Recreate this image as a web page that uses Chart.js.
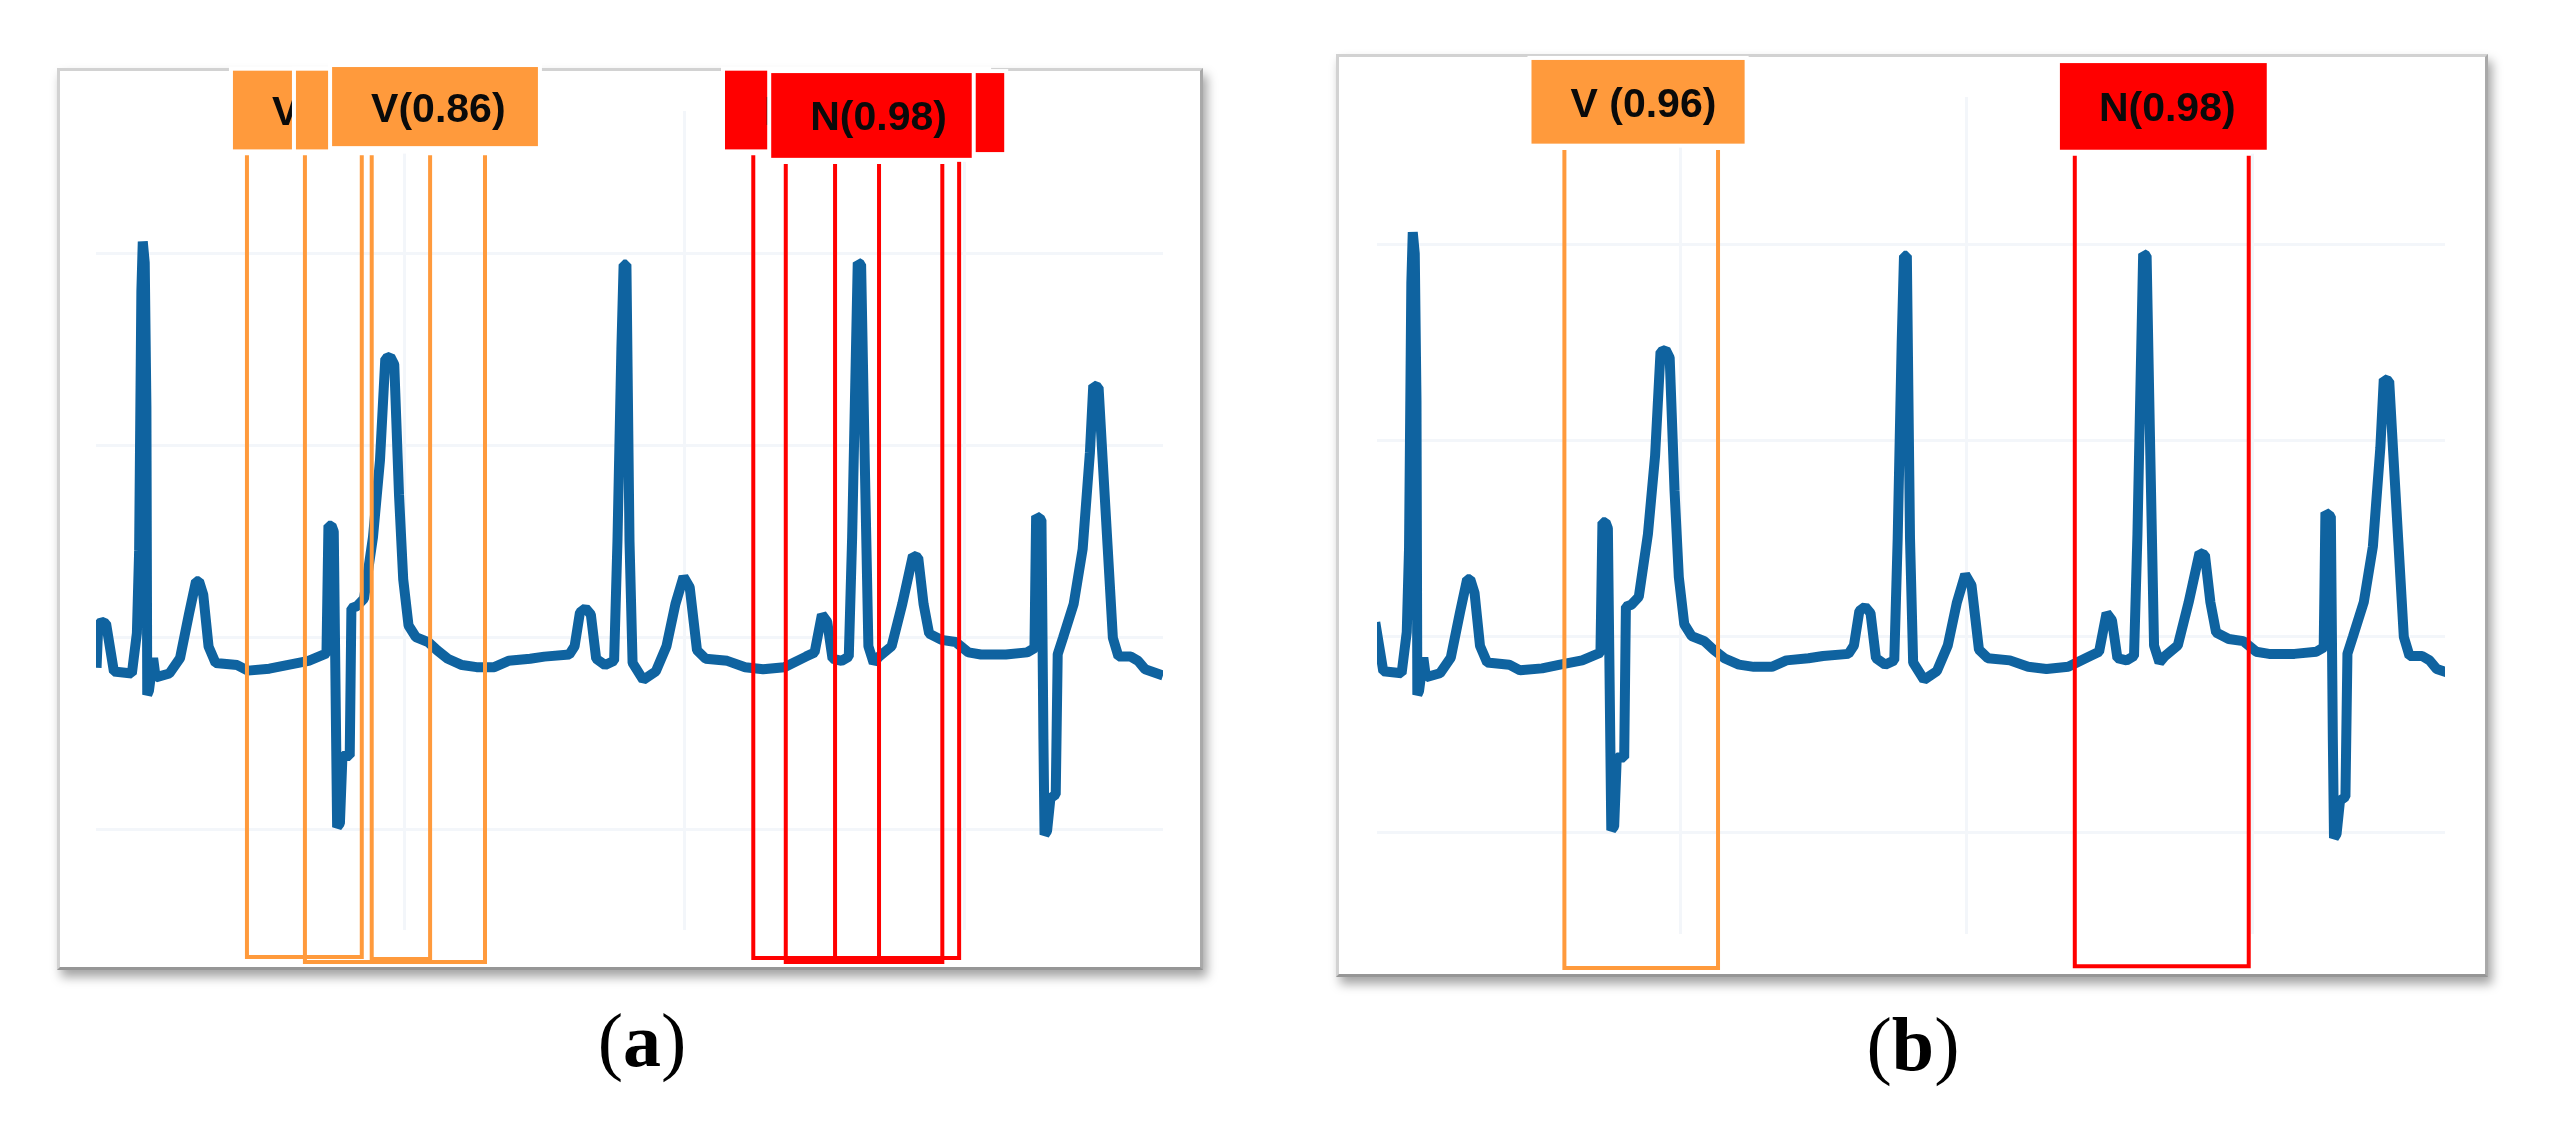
<!DOCTYPE html>
<html>
<head>
<meta charset="utf-8">
<script src="https://cdn.jsdelivr.net/npm/chart.js@4.4.1/dist/chart.umd.min.js"></script>
<style>
  html, body { margin: 0; padding: 0; background: #ffffff; }
  body { width: 2549px; height: 1122px; position: relative; overflow: hidden; }
  .frame { position: absolute; box-sizing: border-box; background: #ffffff;
           border: 3px solid #d2d2d2; border-right-color: #a9a9a9; border-bottom-color: #969696;
           box-shadow: 4px 7px 10px rgba(0,0,0,0.36); }
  canvas { position: absolute; }
  .cap { position: absolute; font-family: "Liberation Serif", "DejaVu Serif", serif; font-size: 76px;
         line-height: 76px; color: #000; white-space: nowrap; transform: translateX(-50%); }
  .cap b { font-weight: bold; }
</style>
</head>
<body>
<div class="frame" style="left:57px; top:68px; width:1146px; height:902px;"></div>
<div class="frame" style="left:1336px; top:54px; width:1152px; height:923px;"></div>
<canvas id="chartA" width="1146" height="960" style="left:57px; top:30px;"></canvas>
<canvas id="chartB" width="1152" height="960" style="left:1336px; top:30px;"></canvas>
<div class="cap" style="left:642px; top:1002px;">(<b>a</b>)</div>
<div class="cap" style="left:1913px; top:1006px;">(<b>b</b>)</div>
<script>
// ---- ECG signal (time in samples, amplitude in grid units) ----
const ecgTime = [
  -10, -9.4, -8.3, -6.6, -3.8, 2.6, 4.4, 5.2, 6.0, 6.5,
  7.2, 7.8, 8.1, 8.7, 10.2, 11.1, 16.0, 19.8, 23.0, 25.5,
  26.6, 28.1, 30.0, 32.5, 40.2, 44.0, 51.7, 58.0, 65.7, 72.1,
  72.8, 73.9, 74.7, 75.9, 76.9, 77.8, 80.4, 81.0, 82.9, 85.5,
  88.7, 91.2, 93.1, 94.9, 96.3, 97.0, 98.0, 99.5, 101.4, 104.0,
  108.4, 111.6, 115.4, 120.5, 125.7, 132.0, 137.1, 144.8, 149.9, 158.8,
  160.7, 162.6, 164.6, 166.5, 168.4, 171.6, 174.8, 176.0, 177.4, 178.2,
  179.2, 180.3, 181.4, 185.2, 189.7, 193.5, 196.7, 199.6, 201.8, 204.4,
  207.5, 215.2, 221.6, 228.0, 235.6, 243.3, 246.4, 249.0, 250.9, 252.8,
  256.0, 258.6, 259.8, 261.8, 263.0, 264.3, 265.6, 267.5, 269.4, 273.9,
  277.7, 281.5, 283.4, 285.3, 287.3, 291.7, 296.8, 301.3, 305.8, 314.7,
  322.3, 324.9, 325.5, 327.4, 328.1, 328.5, 329.4, 330.6, 332.5, 333.2,
  335.1, 338.9, 342.1, 344.7, 345.9, 347.8, 349.1, 351.0, 352.9, 354.9,
  359.3, 361.9, 364.4, 370.8
];
const ecgAmplitude = [
  -0.16, 0.06, 0.08, 0.07, -0.18, -0.19, 0.02, 0.45, 1.8, 2.06,
  1.95, 1.2, -0.30, -0.28, -0.11, -0.21, -0.19, -0.11, 0.12, 0.29,
  0.29, 0.22, -0.05, -0.135, -0.146, -0.175, -0.165, -0.146, -0.124, -0.085,
  0.58, 0.58, 0.55, -0.99, -0.97, -0.62, -0.62, 0.15, 0.16, 0.20,
  0.52, 0.92, 1.45, 1.46, 1.42, 1.14, 0.74, 0.30, 0.06, 0.0,
  -0.026, -0.069, -0.113, -0.146, -0.157, -0.157, -0.124, -0.113, -0.102, -0.091,
  -0.048, 0.128, 0.15, 0.117, -0.113, -0.146, -0.124, 0.5, 1.5, 1.94,
  1.94, 0.5, -0.135, -0.223, -0.179, -0.048, 0.172, 0.314, 0.259, -0.069,
  -0.113, -0.124, -0.157, -0.168, -0.157, -0.102, -0.08, 0.117, 0.08, -0.113,
  -0.124, -0.102, 0.52, 1.95, 1.94, 0.92, -0.048, -0.135, -0.102, -0.048,
  0.172, 0.424, 0.413, 0.172, 0.018, -0.015, -0.026, -0.08, -0.091, -0.091,
  -0.08, -0.058, 0.63, 0.61, -0.53, -1.03, -1.01, -0.84, -0.82, -0.09,
  -0.004, 0.172, 0.457, 0.961, 1.31, 1.30, 0.961, 0.478, -0.004, -0.102,
  -0.102, -0.124, -0.168, -0.2
];

// ---- Panel (a): detections before suppression (drawing order) ----
const detAClass  = ['V', 'V', 'V', 'N', 'N', 'N'];
const detAStart  = [43.7, 64.4, 88.25, 224.5, 253.7, 236.1];
const detAEnd    = [84.7, 128.7, 109.1, 298.0, 269.4, 292.0];
const detATop    = [2.51, 2.51, 2.51, 2.51, 2.464, 2.464];
const detABottom = [-1.667, -1.693, -1.677, -1.672, -1.677, -1.693];
const labelALeft  = [38.7, 61.2, 74.1, 214.4, 241.2, 230.9];
const labelARight = [119.1, 134.1, 147.6, 308.0, 314.1, 302.5];
const labelAUpper = [2.95, 2.95, 2.969, 2.95, 2.9375, 2.9375];
const labelALower = [2.54, 2.54, 2.557, 2.54, 2.526, 2.496];
const labelAText  = ['V(0.86)', 'V(0.86)', 'V(0.86)', 'N(0.98)', 'N(0.98)', 'N(0.98)'];

// ---- Panel (b): detections after suppression ----
const detBClass  = ['V', 'N'];
const detBStart  = [59.5, 237.9];
const detBEnd    = [113.2, 298.7];
const detBTop    = [2.48, 2.45];
const detBBottom = [-1.694, -1.684];
const labelBLeft  = [48.0, 232.7];
const labelBRight = [122.5, 305.0];
const labelBUpper = [2.939, 2.923];
const labelBLower = [2.512, 2.481];
const labelBText  = ['V (0.96)', 'N(0.98)'];

// ---- axis grid steps ----
const timeGridStep = 100;
const ampGridStep = 1;

const classColor = { V: '#FF9A3C', N: '#FF0000' };
const ecgColor = '#0f63a0';
const gridColor = '#f3f6fa';

function ecgPoints() {
  return ecgTime.map((t, i) => ({ x: t, y: ecgAmplitude[i] }));
}

function boxDatasets(cls, s, e, top, bot) {
  return cls.map((c, i) => ({
    data: [{ x: s[i], y: top[i] }, { x: s[i], y: bot[i] }, { x: e[i], y: bot[i] }, { x: e[i], y: top[i] }],
    borderColor: classColor[c],
    borderWidth: 4,
    pointRadius: 0,
    tension: 0,
    fill: false,
    clip: false,
    borderJoinStyle: 'miter',
    order: 0
  }));
}

function labelPlugin(cls, left, right, upper, lower, text) {
  return {
    id: 'detLabels',
    afterDatasetsDraw(chart) {
      const ctx = chart.ctx;
      const xs = chart.scales.x, ys = chart.scales.y;
      ctx.save();
      cls.forEach((c, i) => {
        const l = xs.getPixelForValue(left[i]);
        const r = xs.getPixelForValue(right[i]);
        const t = ys.getPixelForValue(upper[i]);
        const b = ys.getPixelForValue(lower[i]);
        ctx.fillStyle = '#ffffff';
        ctx.fillRect(l - 4, t - 4, r - l + 8, b - t + 8);
        ctx.fillStyle = classColor[c];
        ctx.fillRect(l, t, r - l, b - t);
        ctx.fillStyle = '#0a0a0a';
        ctx.font = 'bold 41px "Liberation Sans", Arial, sans-serif';
        ctx.textAlign = 'left';
        ctx.textBaseline = 'alphabetic';
        ctx.fillText(text[i], l + 39, (t + b) / 2 + 15);
      });
      ctx.restore();
    }
  };
}

function gridFor(step) {
  return {
    display: true,
    drawTicks: false,
    tickLength: 0,
    lineWidth: 3,
    color: (ctx) => {
      if (!ctx.tick) return 'rgba(0,0,0,0)';
      const v = ctx.tick.value / step;
      return Math.abs(v - Math.round(v)) < 1e-6 ? gridColor : 'rgba(0,0,0,0)';
    }
  };
}

function makeChart(id, xr, yr, pad, boxes, plugin) {
  return new Chart(document.getElementById(id), {
    type: 'line',
    data: {
      datasets: boxes.concat([{
        data: ecgPoints(),
        borderColor: ecgColor,
        borderWidth: 10,
        pointRadius: 0,
        tension: 0,
        fill: false,
        borderJoinStyle: 'bevel',
        borderCapStyle: 'butt',
        order: 1
      }])
    },
    options: {
      responsive: false,
      animation: false,
      devicePixelRatio: 1,
      events: [],
      layout: { padding: pad },
      plugins: { legend: { display: false }, tooltip: { enabled: false }, title: { display: false } },
      scales: {
        x: {
          type: 'linear', min: xr[0], max: xr[1],
          ticks: { display: false, stepSize: timeGridStep },
          grid: gridFor(timeGridStep),
          border: { display: false },
          title: { display: false }
        },
        y: {
          type: 'linear', min: yr[0], max: yr[1],
          ticks: { display: false, stepSize: ampGridStep },
          grid: gridFor(ampGridStep),
          border: { display: false },
          title: { display: false }
        }
      }
    },
    plugins: [plugin]
  });
}

makeChart('chartA', [-10.2, 370.8], [-1.526, 2.74],
  { left: 39, right: 40, top: 81, bottom: 60 },
  boxDatasets(detAClass, detAStart, detAEnd, detATop, detABottom),
  labelPlugin(detAClass, labelALeft, labelARight, labelAUpper, labelALower, labelAText));

makeChart('chartB', [-6, 367.3], [-1.52, 2.75],
  { left: 41, right: 43, top: 67, bottom: 56 },
  boxDatasets(detBClass, detBStart, detBEnd, detBTop, detBBottom),
  labelPlugin(detBClass, labelBLeft, labelBRight, labelBUpper, labelBLower, labelBText));
</script>
</body>
</html>
